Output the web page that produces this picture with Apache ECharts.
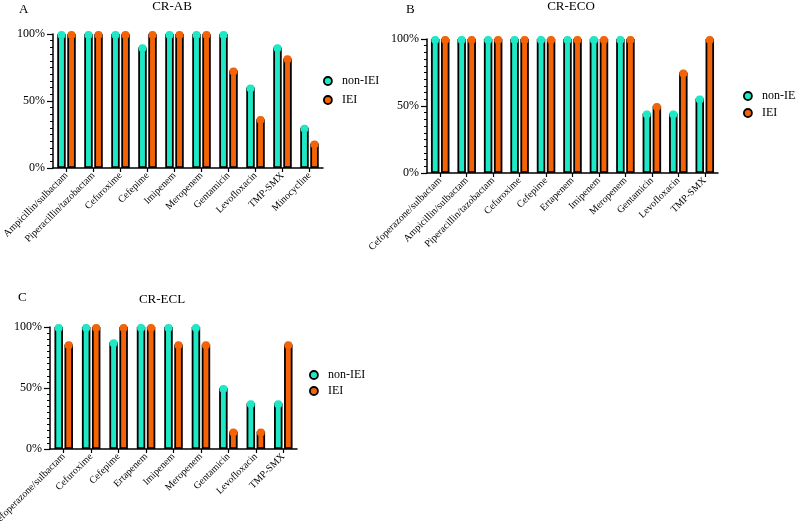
<!DOCTYPE html>
<html>
<head>
<meta charset="utf-8">
<script src="https://cdn.jsdelivr.net/npm/echarts@6/dist/echarts.min.js"></script>
<style>
html, body { margin: 0; padding: 0; background: #fff; }
#main { width: 796px; height: 526px; }
</style>
</head>
<body>
<div id="main"></div>
<script>
// CR-AB
const abDrugs = ['Ampicillin/sulbactam', 'Piperacillin/tazobactam', 'Cefuroxime', 'Cefepime', 'Imipenem',
    'Meropenem', 'Gentamicin', 'Levofloxacin', 'TMP-SMX', 'Minocycline']
const abNonIEI = [100, 100, 100, 90, 100, 100, 100, 60, 90, 30]
const abIEI = [100, 100, 100, 100, 100, 100, 72.7, 36.4, 81.8, 18.2]

// CR-ECO
const ecoDrugs = ['Cefoperazone/sulbactam', 'Ampicillin/sulbactam', 'Piperacillin/tazobactam', 'Cefuroxime',
    'Cefepime', 'Ertapenem', 'Imipenem', 'Meropenem', 'Gentamicin', 'Levofloxacin', 'TMP-SMX']
const ecoNonIEI = [100, 100, 100, 100, 100, 100, 100, 100, 44.4, 44.4, 55.6]
const ecoIEI = [100, 100, 100, 100, 100, 100, 100, 100, 50, 75, 100]

// CR-ECL
const eclDrugs = ['Cefoperazone/sulbactam', 'Cefuroxime', 'Cefepime', 'Ertapenem', 'Imipenem',
    'Meropenem', 'Gentamicin', 'Levofloxacin', 'TMP-SMX']
const eclNonIEI = [100, 100, 87.5, 100, 100, 100, 50, 37.5, 37.5]
const eclIEI = [85.7, 100, 100, 100, 85.7, 85.7, 14.3, 14.3, 85.7]

const yTicks = [0, 50, 100]
const groups = ['non-IEI', 'IEI']
const colors = { 'non-IEI': '#1ee9c6', 'IEI': '#f46406' }
const serif = '"Liberation Serif", "DejaVu Serif", serif'

const panels = [
    { letter: 'A', title: 'CR-AB', drugs: abDrugs, vals: [abNonIEI, abIEI],
      grid: { left: 53, top: 34, width: 270, height: 134 },
      titleX: 172, titleY: 0, letterX: 19, letterY: 3,
      legend: { left: 323, top: 75, itemGap: 7 } },
    { letter: 'B', title: 'CR-ECO', drugs: ecoDrugs, vals: [ecoNonIEI, ecoIEI],
      grid: { left: 427, top: 39, width: 291, height: 134 },
      titleX: 571, titleY: 0, letterX: 406, letterY: 3,
      legend: { left: 743, top: 90, itemGap: 5 } },
    { letter: 'C', title: 'CR-ECL', drugs: eclDrugs, vals: [eclNonIEI, eclIEI],
      grid: { left: 50, top: 327, width: 247, height: 122 },
      titleX: 162, titleY: 293, letterX: 18, letterY: 291,
      legend: { left: 309, top: 369, itemGap: 4 } },
]

const axisLine = { show: true, lineStyle: { color: '#000', width: 1.5 } }
const barStyle = g => ({ color: colors[g], borderColor: '#000', borderWidth: 1.8 })

let grid = [], xAxis = [], yAxis = [], series = [], title = [], legend = []
panels.forEach((p, i) => {
    grid.push({ ...p.grid, outerBoundsMode: 'none', containLabel: false })
    title.push({ text: p.title, left: p.titleX, top: p.titleY, textAlign: 'center', padding: 0,
        textStyle: { fontFamily: serif, fontSize: 13, fontWeight: 'normal', color: '#000' } })
    title.push({ text: p.letter, left: p.letterX, top: p.letterY, padding: 0,
        textStyle: { fontFamily: serif, fontSize: 13, fontWeight: 'normal', color: '#000' } })
    xAxis.push({
        gridIndex: i, type: 'category', data: p.drugs,
        axisLine: axisLine,
        axisTick: { show: true, alignWithLabel: true, length: 4, lineStyle: { color: '#000', width: 1.2 } },
        axisLabel: { interval: 0, rotate: 45, margin: 6, fontFamily: serif, fontSize: 10, color: '#000' },
        splitLine: { show: false },
    })
    yAxis.push({
        gridIndex: i, type: 'value', min: yTicks[0], max: yTicks[2], interval: yTicks[1] - yTicks[0],
        axisLine: axisLine,
        axisTick: { show: true, length: 6, lineStyle: { color: '#000', width: 1.2 } },
        minorTick: { show: true, splitNumber: 10, length: 3, lineStyle: { color: '#000', width: 1 } },
        splitLine: { show: false },
        axisLabel: { formatter: '{value}%', margin: 8, fontFamily: serif, fontSize: 12, color: '#000' },
    })
    legend.push({
        orient: 'vertical', left: p.legend.left, top: p.legend.top, padding: 0,
        itemWidth: 8, itemHeight: 8, itemGap: p.legend.itemGap,
        selectedMode: false,
        textStyle: { fontFamily: serif, fontSize: 12, color: '#000', padding: [0, 0, 0, 5] },
        data: groups.map(g => ({ name: g, icon: 'circle', itemStyle: barStyle(g) })),
    })
    groups.forEach((g, k) => {
        series.push({
            type: 'bar', name: g, xAxisIndex: i, yAxisIndex: i, data: p.vals[k],
            barWidth: 8.5, barGap: '18%',
            itemStyle: barStyle(g),
            emphasis: { disabled: true },
        })
    })
    groups.forEach((g, k) => {
        series.push({
            type: 'pictorialBar', name: g, xAxisIndex: i, yAxisIndex: i, data: p.vals[k],
            barWidth: 8.5, barGap: '18%',
            symbol: 'circle', symbolSize: [8, 8], symbolPosition: 'end', symbolOffset: [0, '-50%'],
            itemStyle: barStyle(g),
            emphasis: { disabled: true },
            z: 5,
        })
    })
})

echarts.init(document.getElementById('main')).setOption({
    animation: false,
    backgroundColor: '#fff',
    title,
    legend,
    grid,
    xAxis,
    yAxis,
    series,
})
</script>
</body>
</html>
